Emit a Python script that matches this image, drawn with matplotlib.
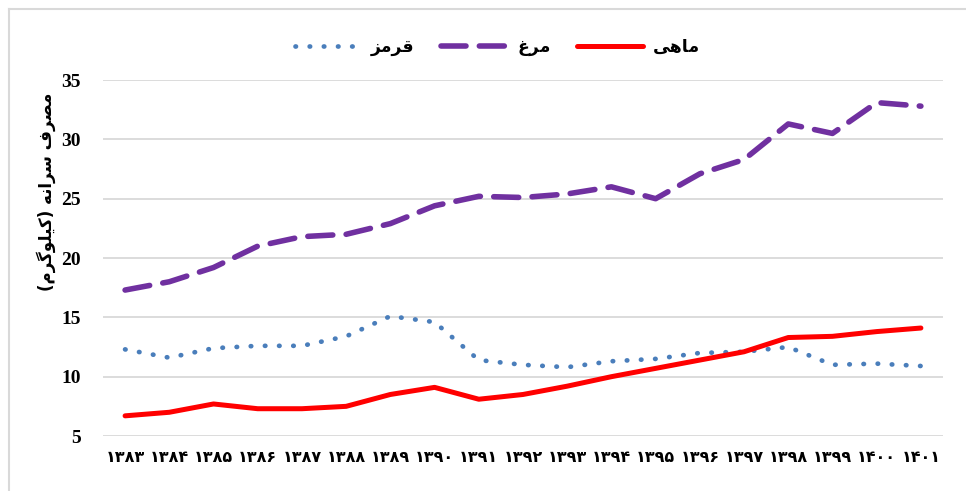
import matplotlib
matplotlib.use("Agg")
import matplotlib.pyplot as plt
from matplotlib.lines import Line2D

# سال‌ها (ارقام فارسی)
years = ["۱۳۸۳", "۱۳۸۴", "۱۳۸۵", "۱۳۸۶", "۱۳۸۷", "۱۳۸۸", "۱۳۸۹", "۱۳۹۰", "۱۳۹۱", "۱۳۹۲",
         "۱۳۹۳", "۱۳۹۴", "۱۳۹۵", "۱۳۹۶", "۱۳۹۷", "۱۳۹۸", "۱۳۹۹", "۱۴۰۰", "۱۴۰۱"]

# مصرف سرانه (کیلوگرم)
red_meat = [12.3, 11.6, 12.4, 12.6, 12.6, 13.4, 15.1, 14.6, 11.4, 11.0,
            10.8, 11.3, 11.5, 12.0, 12.1, 12.5, 11.0, 11.1, 10.9]
chicken = [17.3, 18.0, 19.2, 21.0, 21.8, 22.0, 22.9, 24.4, 25.2, 25.1,
           25.4, 26.0, 25.0, 27.1, 28.3, 31.3, 30.5, 33.1, 32.8]
fish = [6.7, 7.0, 7.7, 7.3, 7.3, 7.5, 8.5, 9.1, 8.1, 8.5,
        9.2, 10.0, 10.7, 11.4, 12.1, 13.3, 13.4, 13.8, 14.1]
yticks = [5, 10, 15, 20, 25, 30, 35]

# متن فارسی به صورت شکل‌های نمایشی و ترتیب دیداری (matplotlib حروف را نمی‌چسباند)
lbl_red = "\uFEB0\uFEE3\uFEAE\uFED7"      # قرمز
lbl_chicken = "\uFECD\uFEAE\uFEE3"        # مرغ
lbl_fish = "\uFEF0\uFEEB\uFE8E\uFEE3"     # ماهی
ylabel = ("(\uFEE1\uFEAE\uFB94\uFEEE\uFEE0\uFEF4\uFB90) "
          "\uFEEA\uFEE7\uFE8D\uFEAE\uFEB3 \uFED1\uFEAE\uFEBC\uFEE3")  # مصرف سرانه (کیلوگرم)

fig = plt.figure(figsize=(9.66, 4.91), dpi=100)
ax = fig.add_axes([0.1066, 0.112, 0.8696, 0.725])

x = range(len(years))
ax.plot(x, red_meat, color="#4a7ebb", lw=3.4, linestyle=(0, (0.1, 2.9)),
        dash_capstyle="round", solid_capstyle="round")
ax.plot(x, chicken, color="#7030a0", lw=4, linestyle=(0, (4.5, 2.4)),
        dash_capstyle="round", solid_joinstyle="round")
ax.plot(x, fish, color="#ff0000", lw=3.6, solid_capstyle="round",
        solid_joinstyle="round")

ax.set_xlim(-0.5, len(years) - 0.5)
ax.set_ylim(5, 35)
ax.set_yticks(yticks)
ax.set_yticklabels([str(v) for v in yticks],
                   fontdict={"family": "Liberation Serif", "weight": "bold", "size": 14})
ax.set_xticks(list(x))
ax.set_xticklabels(years, fontdict={"family": "DejaVu Sans", "weight": "bold", "size": 11.5})
ax.tick_params(length=0)
ax.tick_params(axis="y", pad=16)
ax.tick_params(axis="x", pad=10)
ax.grid(axis="y", color="#d9d9d9", lw=1.3)
ax.set_axisbelow(True)
for s in ax.spines.values():
    s.set_visible(False)

ax.set_ylabel(ylabel, family="DejaVu Sans", fontweight="bold", fontsize=12)
ax.yaxis.set_label_coords(-0.056, 0.685)

handles = [
    Line2D([], [], color="#4a7ebb", lw=3.4, linestyle=(0, (0.1, 2.9)), dash_capstyle="round"),
    Line2D([], [], color="#7030a0", lw=4, linestyle=(0, (4.5, 2.4)), dash_capstyle="round"),
    Line2D([], [], color="#ff0000", lw=3.6, solid_capstyle="round"),
]
fig.legend(handles, [lbl_red, lbl_chicken, lbl_fish], loc="center", bbox_to_anchor=(0.515, 0.905),
           ncol=3, frameon=False, handlelength=3.8, columnspacing=1.5, handletextpad=0.6,
           prop={"family": "DejaVu Sans", "weight": "bold", "size": 12.5})

# کادر بیرونی نمودار (فقط بالا و چپ دیده می‌شود)
fig.add_artist(Line2D([0.009, 1.0], [0.981, 0.981], color="#d9d9d9", lw=1.5))
fig.add_artist(Line2D([0.009, 0.009], [0.0, 0.981], color="#d9d9d9", lw=1.5))

fig.savefig("out.png", dpi=100)
